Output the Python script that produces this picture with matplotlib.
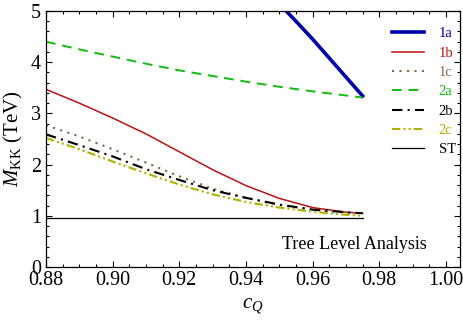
import numpy as np
import matplotlib.pyplot as plt
from matplotlib.ticker import MultipleLocator

plt.rcParams['font.family'] = ['Liberation Serif', 'DejaVu Serif']
plt.rcParams['mathtext.fontset'] = 'custom'
plt.rcParams['mathtext.rm'] = 'Liberation Serif'
plt.rcParams['mathtext.it'] = 'Liberation Serif:italic'

# values
c_1a = [0.95, 0.955, 0.96, 0.965, 0.97, 0.975]
m_1a = [5.14, 4.80, 4.45, 4.08, 3.71, 3.34]

c_all = [0.88, 0.89, 0.90, 0.91, 0.92, 0.93, 0.94, 0.95, 0.96, 0.97, 0.975]
m_1b = [3.47, 3.20, 2.91, 2.60, 2.25, 1.90, 1.59, 1.34, 1.16, 1.07, 1.05]
m_1c = [2.77, 2.55, 2.30, 2.04, 1.77, 1.53, 1.35, 1.21, 1.12, 1.06, 1.04]
m_2a = [4.40, 4.25, 4.11, 3.97, 3.84, 3.73, 3.62, 3.52, 3.43, 3.35, 3.31]
m_2b = [2.59, 2.38, 2.16, 1.91, 1.70, 1.50, 1.35, 1.22, 1.12, 1.07, 1.05]
m_2c = [2.52, 2.30, 2.06, 1.83, 1.61, 1.42, 1.27, 1.16, 1.08, 1.02, 1.00]
c_st = [0.88, 0.975]
m_st = [0.95, 0.95]

labels = ['1a', '1b', '1c', '2a', '2b', '2c', 'ST']
colors = ['#0000aa', '#bb1111', '#86664a', '#11bb11', '#000000', '#b0b000', '#000000']

fig = plt.figure(figsize=(4.63, 3.26), dpi=100)
ax = fig.add_axes([46/463, 1-267/326, 414/463, 256/326])

ax.plot(c_1a, m_1a, color=colors[0], lw=2.6, label=labels[0])
ax.plot(c_all, m_1b, color=colors[1], lw=1.1, label=labels[1])
ax.plot(c_all, m_1c, color=colors[2], lw=1.5, ls=(0, (1, 2.6)), label=labels[2])
ax.plot(c_all, m_2a, color=colors[3], lw=1.4, ls=(0, (5, 3.5)), label=labels[3])
ax.plot(c_all, m_2b, color=colors[4], lw=1.5, ls=(0, (5, 2.5, 1, 2.5)), label=labels[4])
ax.plot(c_all, m_2c, color=colors[5], lw=1.5, ls=(0, (4, 1.5, 1, 1.5, 1, 1.5)), label=labels[5])
ax.plot(c_st, m_st, color=colors[6], lw=0.9, label=labels[6])

ax.set_xlim(0.88, 0.88 + 414/3333)
ax.set_ylim(0, 5)
ax.xaxis.set_major_locator(MultipleLocator(0.02))
ax.xaxis.set_minor_locator(MultipleLocator(0.005))
ax.yaxis.set_major_locator(MultipleLocator(1))
ax.yaxis.set_minor_locator(MultipleLocator(0.2))
ax.xaxis.set_major_formatter(plt.FuncFormatter(lambda v, p: '%.2f' % v))
ax.tick_params(which='both', direction='in', top=True, right=True, labelsize=14.5, width=0.8)
ax.tick_params(which='major', length=4)
ax.tick_params(which='minor', length=2.5)
ax.tick_params(axis='x', pad=3)
for s in ax.spines.values():
    s.set_linewidth(0.9)

ax.set_xlabel(r'$c_Q$', fontsize=15)
ax.set_ylabel(r'$M_{\rm KK}$ (TeV)', fontsize=15, labelpad=4)

leg = ax.legend(loc='upper left', bbox_to_anchor=(0.836, 0.937), frameon=False,
                fontsize=10.5, handlelength=2.2, handletextpad=1.0,
                labelspacing=0.42, borderaxespad=0, borderpad=0)
for t, c in zip(leg.get_texts(), colors):
    t.set_color(c)

ax.text(0.92, 0.088, 'Tree Level Analysis', transform=ax.transAxes,
        ha='right', va='center', fontsize=13)

fig.savefig('out.png', dpi=100)
